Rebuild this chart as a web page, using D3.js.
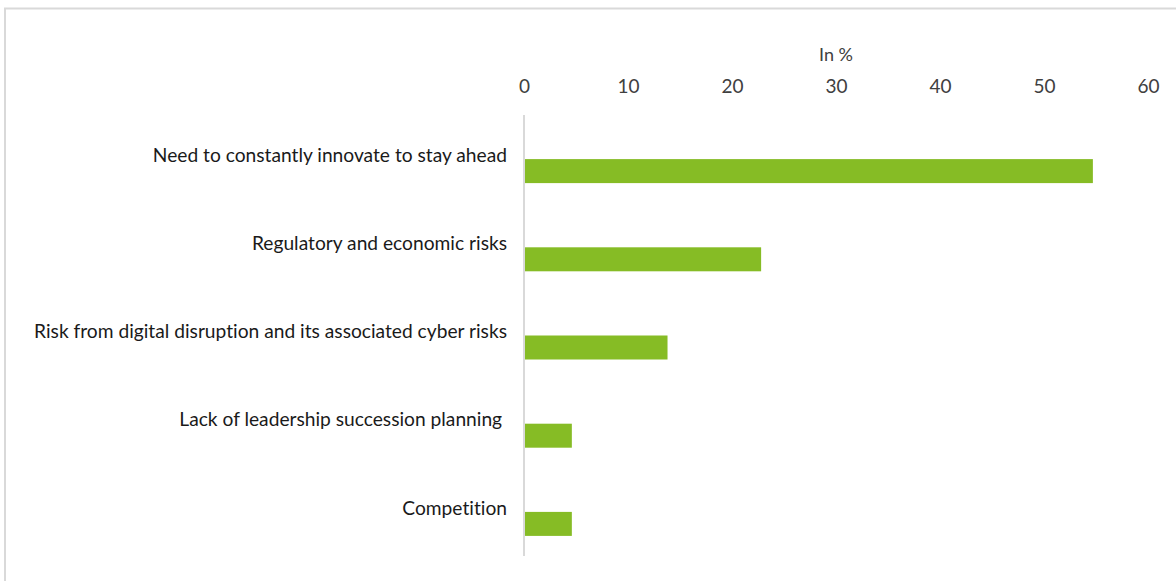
<!DOCTYPE html>
<html>
<head>
<meta charset="utf-8">
<script src="https://cdn.jsdelivr.net/npm/d3@7"></script>
<style>
  html, body { margin: 0; padding: 0; background: #fff; }
  svg { display: block; }
  text { font-family: Lato, "Open Sans", sans-serif; font-variant-ligatures: none; }
</style>
</head>
<body>
<svg id="chart" width="1176" height="581"></svg>
<script>
// Survey categories (top to bottom) and their shares in %
const categories = [
  "Need to constantly innovate to stay ahead",
  "Regulatory and economic risks",
  "Risk from digital disruption and its associated cyber risks",
  "Lack of leadership succession planning ",
  "Competition"
];
const values = [54.7, 22.8, 13.8, 4.6, 4.6];
const xTicks = [0, 10, 20, 30, 40, 50, 60];
const axisTitle = "In %";

const svg = d3.select("#chart");
const W = 1176, H = 581;

// outer frame
svg.append("rect")
  .attr("x", 5).attr("y", 8.5)
  .attr("width", W + 10).attr("height", H + 10)
  .attr("fill", "none")
  .attr("stroke", "#d9d9d9")
  .attr("stroke-width", 2);

const x = d3.scaleLinear().domain([0, 60]).range([524, 1148]);
const y = d3.scaleBand().domain(categories).range([115, 556]).padding(0);
const barH = 24;

// value axis on top, labels only
const xAxis = svg.append("g")
  .call(d3.axisTop(x).tickValues(xTicks).tickSize(0).tickPadding(0));
xAxis.select(".domain").remove();
xAxis.selectAll("text")
  .attr("y", 93)
  .attr("font-size", 19)
  .attr("fill", "#404040");

svg.append("text")
  .attr("x", x(30))
  .attr("y", 61)
  .attr("text-anchor", "middle")
  .attr("font-size", 18)
  .attr("fill", "#404040")
  .text(axisTitle);

// category axis line
svg.append("line")
  .attr("x1", x(0)).attr("x2", x(0))
  .attr("y1", y.range()[0]).attr("y2", y.range()[1])
  .attr("stroke", "#d9d9d9")
  .attr("stroke-width", 2);

// bars
svg.append("g").selectAll("rect")
  .data(categories)
  .join("rect")
  .attr("x", x(0) + 1)
  .attr("y", d => y(d) + y.bandwidth() / 2)
  .attr("width", (d, i) => x(values[i]) - x(0) - 1)
  .attr("height", barH)
  .attr("fill", "#86bc25");

// category labels
svg.append("g").selectAll("text")
  .data(categories)
  .join("text")
  .attr("x", 507)
  .attr("y", d => y(d) + y.bandwidth() / 2 - 4)
  .attr("dy", "0.35em")
  .attr("text-anchor", "end")
  .attr("xml:space", "preserve")
  .style("white-space", "pre")
  .attr("font-size", 19.2)
  .attr("fill", "#1a1a1a")
  .text(d => d);
</script>
</body>
</html>
